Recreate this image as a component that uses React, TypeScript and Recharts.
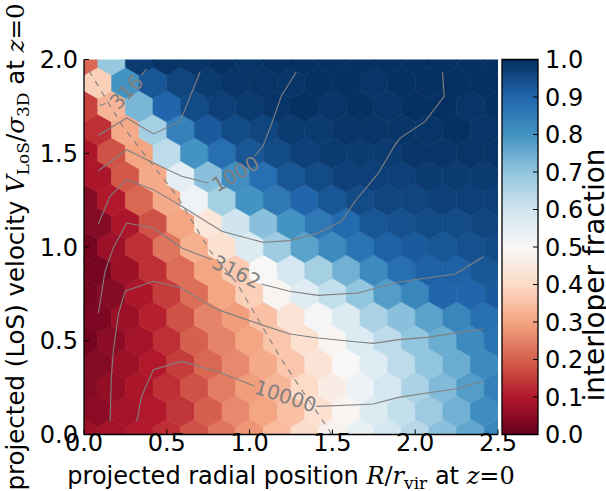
import { Bar, BarChart, ComposedChart, Line, Scatter, XAxis, YAxis } from "recharts";

const WIDTH = 606;
const HEIGHT = 491;
const MARGIN = { top: 59.5, right: 108, bottom: 0, left: 0 };
const Y_AXIS_W = 84;
const X_AXIS_H = 56.5;
const PLOT_W = WIDTH - MARGIN.left - MARGIN.right - Y_AXIS_W;
const PLOT_H = HEIGHT - MARGIN.top - MARGIN.bottom - X_AXIS_H;

const X_MAX = 2.5;
const Y_MAX = 2;
// hexbin gridsize 15 -> 8 rows of the main lattice
const SX = X_MAX / 15;
const SY = Y_MAX / 8;

const X_TICKS = [0, 0.5, 1, 1.5, 2, 2.5];
const Y_TICKS = [0, 0.5, 1, 1.5, 2];
const CB_TICKS = [0, 0.1, 0.2, 0.3, 0.4, 0.5, 0.6, 0.7, 0.8, 0.9, 1];

// interloper fraction per hex, one array per lattice row (even rows start at x=0, odd rows at x=SX/2)
const ROW_00 = [0.07, 0.08, 0.1, 0.13, 0.18, 0.23, 0.28, 0.34, 0.41, 0.48, 0.54, 0.59, 0.64, 0.71, 0.76, 0.83];
const ROW_01 = [0.05, 0.08, 0.1, 0.14, 0.2, 0.26, 0.3, 0.35, 0.42, 0.49, 0.57, 0.62, 0.68, 0.74, 0.81];
const ROW_02 = [0.04, 0.06, 0.09, 0.13, 0.18, 0.24, 0.29, 0.33, 0.4, 0.46, 0.53, 0.59, 0.66, 0.72, 0.78, 0.84];
const ROW_03 = [0.04, 0.07, 0.1, 0.15, 0.21, 0.26, 0.31, 0.36, 0.43, 0.5, 0.56, 0.63, 0.7, 0.75, 0.82];
const ROW_04 = [0.02, 0.05, 0.08, 0.13, 0.2, 0.25, 0.3, 0.36, 0.42, 0.49, 0.57, 0.63, 0.7, 0.75, 0.82, 0.87];
const ROW_05 = [0.03, 0.07, 0.11, 0.18, 0.25, 0.29, 0.35, 0.43, 0.51, 0.57, 0.66, 0.71, 0.77, 0.83, 0.88];
const ROW_06 = [0.02, 0.04, 0.09, 0.15, 0.22, 0.3, 0.38, 0.49, 0.56, 0.62, 0.7, 0.78, 0.83, 0.9, 0.9, 0.92];
const ROW_07 = [0.02, 0.07, 0.13, 0.22, 0.3, 0.37, 0.5, 0.59, 0.67, 0.74, 0.82, 0.88, 0.91, 0.91, 0.93];
const ROW_08 = [0.02, 0.07, 0.13, 0.23, 0.32, 0.42, 0.57, 0.68, 0.77, 0.82, 0.87, 0.91, 0.92, 0.93, 0.94, 0.95];
const ROW_09 = [0.04, 0.09, 0.18, 0.3, 0.44, 0.6, 0.71, 0.8, 0.86, 0.89, 0.93, 0.94, 0.95, 0.95, 0.96];
const ROW_10 = [0.04, 0.1, 0.21, 0.31, 0.52, 0.67, 0.8, 0.86, 0.9, 0.93, 0.95, 0.96, 0.96, 0.97, 0.97, 0.97];
const ROW_11 = [0.09, 0.19, 0.31, 0.55, 0.71, 0.81, 0.88, 0.93, 0.95, 0.97, 0.97, 0.97, 0.98, 0.98, 0.98];
const ROW_12 = [0.09, 0.18, 0.3, 0.63, 0.8, 0.88, 0.93, 0.95, 0.97, 0.98, 0.98, 0.98, 0.99, 0.99, 0.99, 0.99];
const ROW_13 = [0.13, 0.31, 0.67, 0.84, 0.92, 0.95, 0.96, 0.98, 0.98, 0.99, 0.99, 0.99, 0.99, 1, 0.99, 1];
const ROW_14 = [0.16, 0.33, 0.73, 0.9, 0.95, 0.97, 0.98, 0.99, 1, 0.99, 1, 0.99, 1, 1, 0.99, 1];
const ROW_15 = [0.38, 0.8, 0.93, 0.96, 0.98, 0.99, 0.99, 0.99, 1, 1, 0.99, 1, 1, 1, 1];
const ROW_16 = [0.21, 0.69, 0.98, 0.99, 0.99, 1, 0.99, 1, 1, 1, 1, 1, 1, 1, 1, 1];

const ROWS = [
  ROW_00, ROW_01, ROW_02, ROW_03, ROW_04, ROW_05, ROW_06, ROW_07, ROW_08,
  ROW_09, ROW_10, ROW_11, ROW_12, ROW_13, ROW_14, ROW_15, ROW_16,
];

// count contours (log-spaced levels), split where the inline labels sit
const C316_A = [[0.094, 1.755], [0.131, 1.765]];
const C316_B = [[0.347, 1.917], [0.367, 1.939], [0.379, 1.949]];
const C562 = [[0.087, 1.596], [0.258, 1.688], [0.419, 1.603], [0.58, 1.67], [0.701, 1.933]];
const C1000_A = [[1.282, 1.933], [1.191, 1.804], [1.131, 1.652], [1.08, 1.537], [1.03, 1.484]];
const C1000_B = [[0.752, 1.341], [0.59, 1.377], [0.419, 1.448], [0.258, 1.519], [0.087, 1.407]];
const C1778 = [
  [0.087, 1.124], [0.157, 1.27], [0.258, 1.359], [0.419, 1.306], [0.59, 1.217], [0.832, 1.084],
  [1.08, 1.025], [1.242, 1.034], [1.413, 1.075], [1.554, 1.137], [1.637, 1.244], [1.778, 1.395],
  [1.879, 1.546], [1.909, 1.581], [2.06, 1.67], [2.175, 1.804], [2.165, 1.933],
];
const C3162_A = [[0.087, 0.648], [0.127, 0.87], [0.177, 0.995], [0.258, 1.128], [0.419, 1.101], [0.59, 0.995], [0.772, 0.932]];
const C3162_B = [[1.07, 0.803], [1.242, 0.764], [1.413, 0.742], [1.655, 0.755], [1.899, 0.813], [2.071, 0.835], [2.242, 0.856], [2.413, 0.948]];
const C5623 = [
  [0.157, 0.07], [0.165, 0.3], [0.177, 0.444], [0.207, 0.639], [0.248, 0.764], [0.419, 0.817],
  [0.59, 0.781], [0.752, 0.692], [0.808, 0.666], [1.07, 0.586], [1.242, 0.536], [1.413, 0.515],
  [1.655, 0.493], [1.748, 0.486], [1.899, 0.506], [2.071, 0.518], [2.413, 0.563],
];
const C10000_A = [[0.318, 0.07], [0.348, 0.204], [0.419, 0.346], [0.59, 0.39], [0.832, 0.328], [1.03, 0.257]];
const C10000_B = [[1.403, 0.15], [1.655, 0.159], [1.748, 0.163], [1.899, 0.198], [2.071, 0.221], [2.242, 0.243], [2.413, 0.284]];

const CONTOURS = [C316_A, C316_B, C562, C1000_A, C1000_B, C1778, C3162_A, C3162_B, C5623, C10000_A, C10000_B];

const CONTOUR_LABELS = [
  { x: 0.256, y: 1.827, text: "316", angle: -46 },
  { x: 0.915, y: 1.39, text: "1000", angle: -30 },
  { x: 0.921, y: 0.867, text: "3162", angle: 26 },
  { x: 1.217, y: 0.204, text: "10000", angle: 18 },
];

// dashed reference curve
const DASHED = [
  [0.03, 1.94], [0.235, 1.642], [0.367, 1.491], [0.558, 1.277], [0.76, 0.98], [0.923, 0.808],
  [1.06, 0.6], [1.2, 0.39], [1.323, 0.227], [1.468, 0.04], [1.495, 0],
];

const RDBU = ["#67001f", "#b2182b", "#d6604d", "#f4a582", "#fddbc7", "#f7f7f7", "#d1e5f0", "#92c5de", "#4393c3", "#2166ac", "#053061"];

function hexToRgb(h: string) {
  const n = parseInt(h.slice(1), 16);
  return [(n >> 16) & 255, (n >> 8) & 255, n & 255];
}

function rdbu(t: number) {
  const s = Math.max(0, Math.min(1, t)) * 10;
  const i = Math.min(9, Math.floor(s));
  const f = s - i;
  const a = hexToRgb(RDBU[i]);
  const b = hexToRgb(RDBU[i + 1]);
  const c = a.map((v, k) => Math.round(v + (b[k] - v) * f));
  return `rgb(${c[0]},${c[1]},${c[2]})`;
}

const hexes = ROWS.flatMap((row, r) =>
  row.map((f, i) => ({ x: (r % 2 === 0 ? i : i + 0.5) * SX, y: (r * SY) / 2, f }))
);

const toPts = (arr: number[][]) => arr.map(([x, y]) => ({ x, y }));

const HEX_W = (SX * PLOT_W) / X_MAX / 2;
const HEX_H = (SY * PLOT_H) / Y_MAX / 3;

function HexCell(props: any) {
  const { cx, cy, payload } = props;
  const c = rdbu(payload.f);
  const pts = [
    [HEX_W, -HEX_H / 2], [HEX_W, HEX_H / 2], [0, HEX_H],
    [-HEX_W, HEX_H / 2], [-HEX_W, -HEX_H / 2], [0, -HEX_H],
  ]
    .map(([dx, dy]) => `${cx + dx},${cy + dy}`)
    .join(" ");
  return <polygon points={pts} fill={c} stroke={c} strokeWidth={0.6} />;
}

function ContourLabel(props: any) {
  const { cx, cy, payload } = props;
  return (
    <text
      x={cx}
      y={cy}
      transform={`rotate(${payload.angle} ${cx} ${cy})`}
      textAnchor="middle"
      dominantBaseline="central"
      fontSize={20}
      fontFamily="DejaVu Sans"
      fill="#808080"
    >
      {payload.text}
    </text>
  );
}

const SERIF = "DejaVu Serif";

function XTitle(props: any) {
  const { x, y, width } = props.viewBox;
  return (
    <text x={x + width / 2} y={y + 49} textAnchor="middle" fontSize={24} fontFamily="DejaVu Sans" fill="#000">
      {"projected radial position "}
      <tspan fontFamily={SERIF} fontStyle="italic">R</tspan>
      <tspan fontFamily={SERIF}>/</tspan>
      <tspan fontFamily={SERIF} fontStyle="italic">r</tspan>
      <tspan fontFamily={SERIF} fontSize={17} dy={5}>vir</tspan>
      <tspan dy={-5}>{" at "}</tspan>
      <tspan fontFamily={SERIF} fontStyle="italic">z</tspan>
      <tspan fontFamily={SERIF}>=0</tspan>
    </text>
  );
}

function YTitle(props: any) {
  const { y, height } = props.viewBox;
  const cx = 24;
  const cy = y + height / 2;
  return (
    <text
      x={cx}
      y={cy}
      transform={`rotate(-90 ${cx} ${cy})`}
      textAnchor="middle"
      fontSize={24.5}
      fontFamily="DejaVu Sans"
      fill="#000"
    >
      {"projected (LoS) velocity "}
      <tspan fontFamily={SERIF} fontStyle="italic">V</tspan>
      <tspan fontFamily={SERIF} fontSize={17} dy={5}>LoS</tspan>
      <tspan fontFamily={SERIF} dy={-5}>/</tspan>
      <tspan fontFamily={SERIF} fontStyle="italic">σ</tspan>
      <tspan fontFamily={SERIF} fontSize={17} dy={5}>3D</tspan>
      <tspan dy={-5}>{" at "}</tspan>
      <tspan fontFamily={SERIF} fontStyle="italic">z</tspan>
      <tspan fontFamily={SERIF}>=0</tspan>
    </text>
  );
}

function CbTitle(props: any) {
  const { y, height } = props.viewBox;
  const cx = 604;
  const cy = y + height / 2 + 28;
  return (
    <text
      x={cx}
      y={cy}
      transform={`rotate(-90 ${cx} ${cy})`}
      textAnchor="middle"
      fontSize={28}
      fontFamily="DejaVu Sans"
      fill="#000"
    >
      interloper fraction
    </text>
  );
}

const TICK = { fill: "#000", fontSize: 24, fontFamily: "DejaVu Sans" };
const AXIS_LINE = { stroke: "#000", strokeWidth: 1.3 };
const TICK_LINE = { stroke: "#000", strokeWidth: 1 };

export default function App() {
  return (
    <div style={{ position: "absolute", left: 0, top: 0, width: WIDTH, height: HEIGHT, background: "#fff" }}>
      <div style={{ position: "absolute", left: 0, top: 0 }}>
        <ComposedChart width={WIDTH} height={HEIGHT} margin={MARGIN}>
          <XAxis
            xAxisId="b"
            dataKey="x"
            type="number"
            domain={[0, X_MAX]}
            ticks={X_TICKS}
            interval={0}
            allowDataOverflow
            height={X_AXIS_H}
            tickFormatter={(v: number) => v.toFixed(1)}
            tick={TICK}
            tickSize={-5}
            tickMargin={4}
            axisLine={AXIS_LINE}
            tickLine={TICK_LINE}
            label={<XTitle />}
          />
          <XAxis
            xAxisId="t"
            orientation="top"
            type="number"
            domain={[0, X_MAX]}
            ticks={X_TICKS}
            interval={0}
            height={0}
            tick={false}
            tickSize={-5}
            axisLine={AXIS_LINE}
            tickLine={TICK_LINE}
          />
          <YAxis
            yAxisId="l"
            dataKey="y"
            type="number"
            domain={[0, Y_MAX]}
            ticks={Y_TICKS}
            interval={0}
            allowDataOverflow
            width={Y_AXIS_W}
            tickFormatter={(v: number) => v.toFixed(1)}
            tick={TICK}
            tickSize={-5}
            tickMargin={11}
            axisLine={AXIS_LINE}
            tickLine={TICK_LINE}
            label={<YTitle />}
          />
          <YAxis
            yAxisId="r"
            orientation="right"
            type="number"
            domain={[0, Y_MAX]}
            ticks={Y_TICKS}
            interval={0}
            width={0}
            tick={false}
            tickSize={-5}
            axisLine={AXIS_LINE}
            tickLine={TICK_LINE}
          />
          <Scatter
            xAxisId="b"
            yAxisId="l"
            data={hexes}
            shape={HexCell}
            zIndex={50}
            isAnimationActive={false}
          />
          {CONTOURS.map((c, k) => (
            <Line
              key={`c${k}`}
              xAxisId="b"
              yAxisId="l"
              data={toPts(c)}
              dataKey="y"
              stroke="#808080"
              strokeWidth={1.1}
              dot={false}
              activeDot={false}
              isAnimationActive={false}
            />
          ))}
          <Line
            xAxisId="b"
            yAxisId="l"
            data={toPts(DASHED)}
            dataKey="y"
            stroke="#808080"
            strokeWidth={1.1}
            strokeDasharray="6 6"
            dot={false}
            activeDot={false}
            isAnimationActive={false}
          />
          <Scatter
            xAxisId="b"
            yAxisId="l"
            data={CONTOUR_LABELS}
            shape={ContourLabel}
            isAnimationActive={false}
          />
        </ComposedChart>
      </div>
      <div style={{ position: "absolute", left: 0, top: 0 }}>
        <BarChart
          width={WIDTH}
          height={HEIGHT}
          data={[{ k: "cb", v: 1 }]}
          margin={{ top: MARGIN.top, right: 0, bottom: X_AXIS_H, left: 502 }}
          barCategoryGap={0}
        >
          <defs>
            <linearGradient id="cbarGrad" x1="0" y1="1" x2="0" y2="0">
              {RDBU.map((c, i) => (
                <stop key={c} offset={`${i * 10}%`} stopColor={c} />
              ))}
            </linearGradient>
          </defs>
          <XAxis dataKey="k" hide />
          <YAxis
            orientation="right"
            type="number"
            domain={[0, 1]}
            ticks={CB_TICKS}
            interval={0}
            width={68}
            tickFormatter={(v: number) => v.toFixed(1)}
            tick={TICK}
            tickSize={-5}
            tickMargin={12}
            axisLine={false}
            tickLine={TICK_LINE}
            label={<CbTitle />}
          />
          <Bar dataKey="v" fill="url(#cbarGrad)" stroke="#000" strokeWidth={1.3} isAnimationActive={false} />
        </BarChart>
      </div>
    </div>
  );
}
